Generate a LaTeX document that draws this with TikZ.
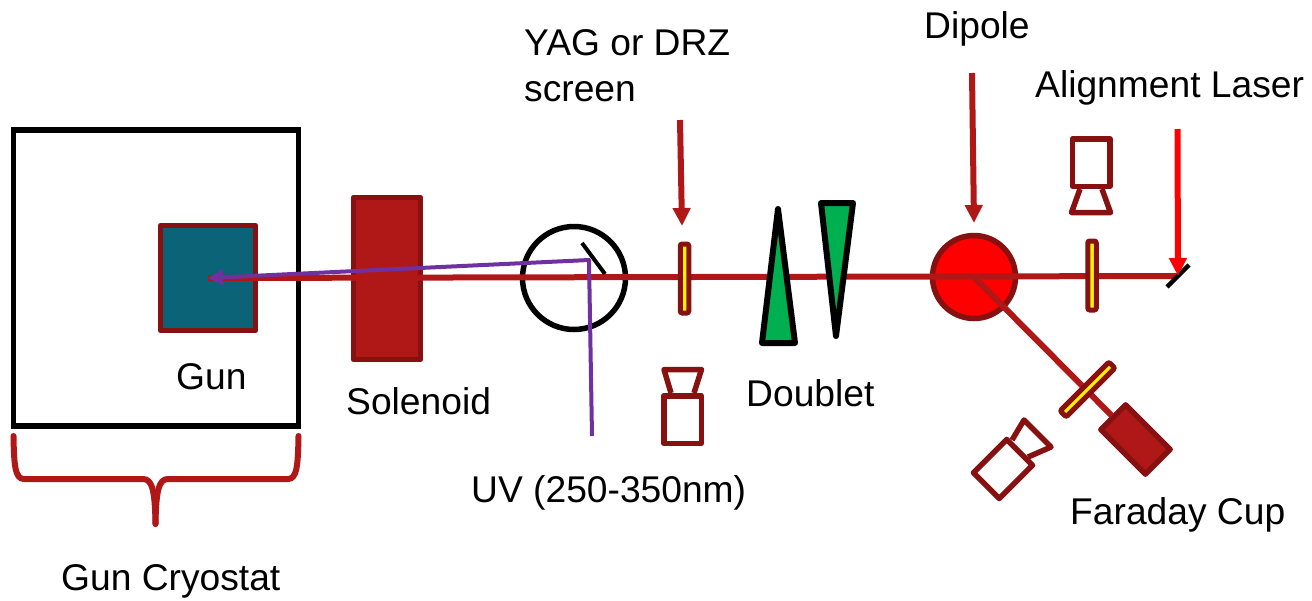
\documentclass[tikz,border=0pt]{standalone}
\usepackage{xcolor}
\usepackage{fontspec}
\setmainfont{Liberation Sans}
\usetikzlibrary{arrows.meta,shapes,positioning}
\definecolor{BeamRed}{HTML}{B01818}
\definecolor{EdgeRed}{HTML}{871111}
\definecolor{GunTeal}{HTML}{0B6378}
\definecolor{LensGreen}{HTML}{00B050}
\definecolor{UvPurple}{HTML}{7030A0}
\begin{document}
\begin{tikzpicture}[
    x=1pt, y=-1pt,
    label/.style={font=\fontsize{37.2}{46}\selectfont, inner sep=0pt, anchor=base west, align=left},
    block/.style={draw=EdgeRed, line width=5.5pt, line join=round, inner sep=0pt},
    screen/.style={draw=EdgeRed, fill=yellow, line width=5pt, rounded corners=2pt,
                   minimum width=8.5pt, minimum height=69pt, inner sep=0pt},
    camera/.style={block, line width=5.5pt, minimum width=37.5pt, minimum height=47.5pt},
    funnel/.style={draw=EdgeRed, line width=5.5pt, line join=round},
    lens/.style={draw=black, fill=LensGreen, line width=6pt, line join=round},
    beam/.style={BeamRed, line width=6pt},
    uv/.style={UvPurple, line width=4pt, line join=round},
    pointer/.style={-{Triangle[length=18pt,width=17pt]}, line width=6pt},
  ]
    \useasboundingbox (0,0) rectangle (1312,600);
    % boxes under the beam
    \node[draw=black, line width=5.5pt, minimum width=285pt, minimum height=296pt, inner sep=0pt] (cryo) at (156,278) {};
    \node[block, fill=GunTeal, minimum width=95pt, minimum height=105pt] (gun) at (208,278) {};
    \node[block, fill=BeamRed, minimum width=67pt, minimum height=162pt] (sol) at (387,278.5) {};
    \node[circle, draw=black, line width=5.5pt, minimum size=103pt, inner sep=0pt] (cross) at (574,278) {};
    \node[circle, block, fill=red, minimum size=83pt] (dipole) at (974,277) {};
    \node[block, fill=BeamRed, minimum width=63pt, minimum height=35pt, rotate=-45] (cup) at (1135.5,439.5) {};
    \coordinate (mirror) at (1178,276);
    % beam line
    \draw[beam] (gun.center) -- (mirror);
    \draw[beam] (dipole.center) -- (cup);
    \draw[black, line width=4pt] (582,243) -- (605,274);
    \draw[black, line width=4.5pt] (1167,287) -- (1189,265);
    % screens and lenses
    \node[screen] (scra) at (684.5,278.5) {};
    \node[screen] (scrb) at (1092,275.5) {};
    \node[screen, rotate=-45] (scrc) at (1087.5,389.5) {};
    \draw[lens] (778,209) -- (795,343) -- (762,343) -- cycle;
    \draw[lens] (821,203) -- (853,203) -- (836,336) -- cycle;
    % cameras
    \node[camera] (cama) at (682.5,419.5) {};
    \draw[funnel] (671,393) -- (664,369.5) -- (701.5,369.5) -- (694,393);
    \node[camera] (camb) at (1091,162.5) {};
    \draw[funnel] (1080,189) -- (1071.5,212.5) -- (1110.5,212.5) -- (1102,189);
    \node[camera, minimum width=36.5pt, minimum height=47pt, rotate=-45] (camc) at (1003,469) {};
    \draw[funnel] (1012,440) -- (1024,420) -- (1051,447) -- (1028,457);
    % uv path
    \coordinate (uvstart) at (592,436);
    \coordinate (uvturn) at (589,260);
    \draw[uv, -{Triangle[length=15pt,width=15pt]}] (uvstart) -- (uvturn) -- (gun.center);
    % arrows
    \coordinate (yagtop) at (680,120);
    \coordinate (yagtip) at (682,226);
    \coordinate (diptop) at (972,73);
    \coordinate (diptip) at (974,223);
    \coordinate (lastop) at (1177.5,129);
    \draw[pointer, BeamRed] (yagtop) -- (yagtip);
    \draw[pointer, BeamRed] (diptop) -- (diptip);
    \draw[pointer, red] (lastop) -- (mirror);
    % brace
    \draw[beam, line cap=round] (13.5,436) .. controls (14,465) and (15,479) .. (24,479) -- (143,479)
      .. controls (152,479) and (155,490) .. (155.5,524);
    \draw[beam, line cap=round] (298.5,436) .. controls (298,465) and (297,479) .. (288,479) -- (168,479)
      .. controls (159,479) and (156,490) .. (155.5,524);
    % labels
    \node[label] (lyag) at (524,55) {YAG or DRZ};
    \node[label] (lscr) at (524,101) {screen};
    \node[label] (ldip) at (924,38) {Dipole};
    \node[label] (lali) at (1035,97) {Alignment Laser};
    \node[label] (lgun) at (176,389) {Gun};
    \node[label] (lsol) at (346,414) {Solenoid};
    \node[label] (ldbl) at (746,406) {Doublet};
    \node[label] (luv)  at (471,502) {UV (250-350nm)};
    \node[label] (lfar) at (1070,524) {Faraday Cup};
    \node[label] (lcry) at (61,590) {Gun Cryostat};
  \end{tikzpicture}
\end{document}
